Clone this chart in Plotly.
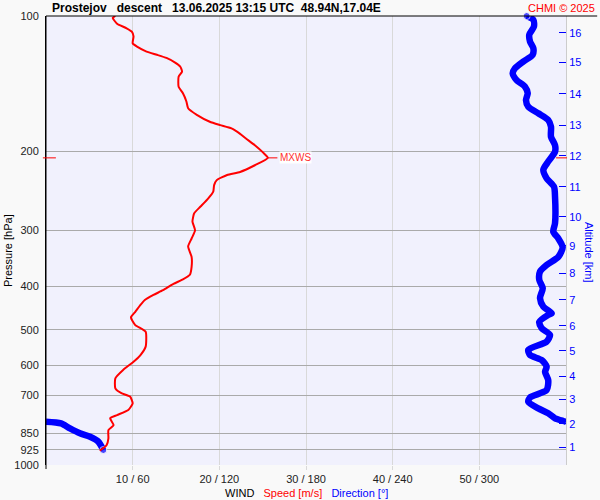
import plotly.graph_objects as go

# ---- data ----
# wind speed profile (pressure hPa, speed m/s)
speed_p = [100, 101, 104, 106.5, 108.4, 111, 115, 117, 120, 122, 124, 127, 129.7, 133, 136.5,
           143.7, 148.6, 155, 160.5, 166, 172, 175, 178, 183, 187, 194, 201, 207, 215, 222.5,
           226, 232, 238, 246, 255, 266, 275, 287, 300, 313, 326, 344, 362, 377, 386,
           395, 408, 418, 429, 440, 456, 469, 488, 505, 545, 569, 589, 614, 641, 675,
           692, 704, 729, 754, 774, 787, 815, 836, 872, 903, 918, 929]
speed = [8.0, 7.7, 8.2, 9.3, 9.9, 10.1, 10.0, 10.5, 11.6, 12.8, 13.9, 14.9, 15.5, 15.7, 15.3,
         15.3, 15.8, 16.2, 16.4, 17.4, 18.9, 20.1, 21.4, 22.4, 23.0, 24.1, 25.0, 25.6, 24.1, 22.4,
         20.9, 19.7, 19.4, 19.3, 18.7, 17.8, 17.1, 16.9, 17.2, 16.8, 16.4, 16.8, 16.8, 16.6, 15.8,
         14.7, 13.5, 12.4, 11.4, 10.9, 10.3, 9.8, 10.3, 11.5, 11.5, 10.9, 10.1, 8.9, 8.0, 8.0,
         8.7, 9.7, 10.0, 9.5, 8.2, 7.4, 7.8, 7.2, 7.2, 7.0, 6.6, 6.2]

# wind direction profile (pressure hPa, direction deg)
dir_p = [100, 102, 105.6, 110, 114, 118, 122, 126.4, 130.8, 134.2, 138.9, 143.7, 148.6, 153.9, 159.2,
         164.7, 170.5, 176.4, 185.7, 194, 200.6, 211, 220, 229.9, 240, 252.6, 289.5, 302.3, 313, 327.5,
         344, 358.6, 371, 387, 404, 425, 444, 459, 463, 480, 496, 513, 531, 554, 569,
         584, 604, 620, 647, 681, 707, 723, 748, 767, 787, 798, 801, 801, 808, 829,
         850, 865, 887, 926]
direction = [332.8, 337.4, 337.8, 334.6, 335.1, 337.4, 336.9, 330.4, 324.7, 323.1, 325.8, 331.6, 333.5, 332.3, 333.9,
             340.8, 347.7, 349.6, 349.6, 352.4, 352.4, 347.7, 344.3, 346.6, 351.7, 352.4, 352.4, 351.2, 354.7, 357.7,
             354.7, 346.6, 342.0, 341.5, 343.9, 342.0, 344.3, 350.1, 347.7, 341.5, 343.2, 348.9, 346.6, 333.9, 335.1,
             343.2, 346.6, 345.5, 347.7, 346.6, 335.1, 333.9, 340.8, 347.7, 352.4, 358.1, 360.0, 0.0, 10.4, 16.6,
             23.5, 30.5, 36.2, 39.7]

pressure_ticks = [100, 200, 300, 400, 500, 600, 700, 850, 925, 1000]
pressure_labels = ["100", "200", "300", "400", "500", "600", "700", "850", "925", "1000"]

dir_range = [0, 360]
speed_range = [0, 60]
wind_tickvals = [60, 120, 180, 240, 300]
wind_ticktext = ["10 / 60", "20 / 120", "30 / 180", "40 / 240", "50 / 300"]

alt_km = ["1", "2", "3", "4", "5", "6", "7", "8", "9", "10", "11", "12", "13", "14", "15", "16"]
alt_p = [912, 810, 713, 634, 557, 490, 429, 374, 325, 280, 240, 205, 175, 149, 127, 109]

title_text = "Prostejov\u00a0\u00a0\u00a0descent\u00a0\u00a0\u00a013.06.2025 13:15 UTC\u00a0\u00a048.94N,17.04E"

FONT = "Liberation Sans, Arial, sans-serif"

# split direction line where it wraps 360 -> 0
dx, dy = [], []
for i, (d, p) in enumerate(zip(direction, dir_p)):
    if i > 0 and abs(d - direction[i - 1]) > 180:
        dx.append(None)
        dy.append(None)
    dx.append(d)
    dy.append(p)
msize = [0] * len(dx)
msize[0] = 7
msize[-1] = 7

fig = go.Figure()
fig.add_trace(go.Scatter(
    x=dx, y=dy, xaxis="x", yaxis="y", mode="lines+markers",
    line=dict(color="#0000ff", width=6.5, shape="spline", smoothing=0.7),
    marker=dict(size=msize, color="#0000ff"),
    cliponaxis=False, hoverinfo="skip", showlegend=False))
fig.add_trace(go.Scatter(
    x=speed, y=speed_p, xaxis="x2", yaxis="y2", mode="lines",
    line=dict(color="#ff0000", width=2, shape="spline", smoothing=0.5),
    hoverinfo="skip", showlegend=False))

# max wind speed marker
imax = max(range(len(speed)), key=lambda i: speed[i])
smax, pmax = speed[imax], speed_p[imax]
k = (dir_range[1] - dir_range[0]) / (speed_range[1] - speed_range[0])  # speed -> direction axis units

shapes = [
    # top border
    dict(type="line", xref="paper", yref="paper", x0=0, x1=1.06, y0=1, y1=1,
         line=dict(color="black", width=1)),
    # left axis extension
    dict(type="line", xref="paper", yref="paper", x0=0, x1=0, y0=-0.009, y1=1,
         line=dict(color="black", width=1)),
    # MXWS ticks
    dict(type="line", xref="paper", yref="y", x0=-0.006, x1=0.019, y0=pmax, y1=pmax,
         line=dict(color="#ff0000", width=1)),
    dict(type="line", xref="paper", yref="y", x0=0.981, x1=1.002, y0=pmax, y1=pmax,
         line=dict(color="#ff0000", width=1)),
    dict(type="line", xref="x", yref="y", x0=smax * k, x1=(smax + 1.1) * k, y0=pmax, y1=pmax,
         line=dict(color="#ff0000", width=1)),
]

annotations = [
    dict(text="<b>" + title_text + "</b>", xref="paper", yref="paper", x=0.0077, y=1.0178,
         xanchor="left", yanchor="middle", showarrow=False,
         font=dict(family=FONT, size=12, color="black")),
    dict(text="CHMI \u00a9 2025", xref="paper", yref="paper", x=1.0596, y=1.0178,
         xanchor="right", yanchor="middle", showarrow=False,
         font=dict(family=FONT, size=11, color="#ff0000")),
    dict(text="MXWS", xref="x", yref="y", x=(smax + 1.3) * k, y=2.316,
         xanchor="left", yanchor="middle", showarrow=False, bgcolor="#ffffff", borderpad=0,
         font=dict(family=FONT, size=10, color="#ff3030")),
    dict(text="Pressure [hPa]", xref="paper", yref="paper", x=-0.073, y=(465 - 251) / 449,
         xanchor="center", yanchor="middle", textangle=-90, showarrow=False,
         font=dict(family=FONT, size=11, color="black")),
    dict(text="Altitude [km]", xref="paper", yref="paper", x=(589 - 46) / 520, y=(465 - 252) / 449,
         xanchor="center", yanchor="middle", textangle=90, showarrow=False,
         font=dict(family=FONT, size=11, color="#0000ff")),
    dict(text="WIND\u00a0\u00a0\u00a0<span style='color:#ff0000'>Speed [m/s]</span>"
              "\u00a0\u00a0\u00a0<span style='color:#0000ff'>Direction [\u00b0]</span>",
         xref="paper", yref="paper", x=0.501, y=(465 - 493) / 449,
         xanchor="center", yanchor="middle", showarrow=False,
         font=dict(family=FONT, size=11, color="black")),
]
# annotation y on a log axis is given in log10 units
import math
annotations[2]["y"] = math.log10(pmax)

fig.update_layout(
    width=600, height=500,
    margin=dict(l=46, r=34, t=16, b=35, autoexpand=False),
    paper_bgcolor="#f9f9f9", plot_bgcolor="#f1f1fd",
    font=dict(family=FONT, size=11, color="black"),
    showlegend=False,
    xaxis=dict(range=dir_range, tickvals=wind_tickvals, ticktext=wind_ticktext,
               showgrid=True, gridcolor="#d9d9d9", gridwidth=1, zeroline=False,
               showline=False, ticks="outside", ticklen=4, tickcolor="#d9d9d9",
               tickfont=dict(family=FONT, size=11, color="#222222"), fixedrange=True),
    xaxis2=dict(range=speed_range, overlaying="x", visible=False, fixedrange=True),
    yaxis=dict(type="log", range=[3, 2], tickvals=pressure_ticks, ticktext=pressure_labels,
               showgrid=True, gridcolor="#aaaaaa", gridwidth=1, zeroline=False,
               showline=True, linecolor="black", linewidth=1, ticks="outside", ticklen=4,
               tickcolor="rgba(0,0,0,0)",
               tickfont=dict(family=FONT, size=11, color="#222222"), fixedrange=True),
    yaxis2=dict(type="log", range=[3, 2], overlaying="y", side="right",
                tickvals=alt_p, ticktext=alt_km, showgrid=False, zeroline=False,
                showline=True, linecolor="#cccccc", linewidth=1,
                ticks="inside", ticklen=7, tickcolor="#0000ff", tickwidth=1,
                tickfont=dict(family=FONT, size=11, color="#0000ff"), fixedrange=True),
    shapes=shapes,
    annotations=annotations,
)

fig.write_html("out.html", config={"displayModeBar": False},
               post_script="document.body.style.margin='0';document.body.style.padding='0';"
                           "document.body.style.overflow='hidden';")
